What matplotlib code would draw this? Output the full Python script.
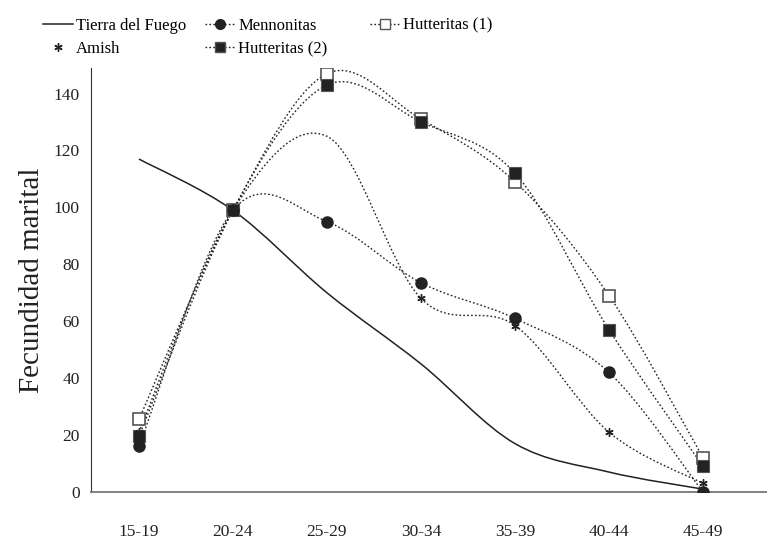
import matplotlib
matplotlib.use("Agg")
import matplotlib.pyplot as plt
import numpy as np
from matplotlib.path import Path
from matplotlib.patches import PathPatch
from matplotlib.lines import Line2D

age_groups = ["15-19", "20-24", "25-29", "30-34", "35-39", "40-44", "45-49"]
tierra_del_fuego = [117, 99, 70, 45, 17, 7, 1]
mennonitas = [16, 99, 95, 73.5, 61, 42, 0]
amish = [21, 99, 125, 68, 58.5, 21, 3]
hutteritas_1 = [25.5, 99, 147, 131, 109, 69, 12]
hutteritas_2 = [19.5, 99, 143, 130, 112, 57, 9]

plt.rcParams["font.family"] = ["Liberation Serif", "DejaVu Serif"]
INK = "#222222"
DOTS = (0, (1.2, 1.6))


def smooth_path(xs, ys):
    # Catmull-Rom style bezier through the points (like a spreadsheet "smoothed line")
    pts = np.column_stack([xs, ys]).astype(float)
    verts = [pts[0]]
    codes = [Path.MOVETO]
    n = len(pts)
    for i in range(n - 1):
        p0 = pts[i - 1] if i > 0 else pts[i]
        p1 = pts[i]
        p2 = pts[i + 1]
        p3 = pts[i + 2] if i + 2 < n else pts[i + 1]
        c1 = p1 + (p2 - p0) / 6.0
        c2 = p2 - (p3 - p1) / 6.0
        verts += [c1, c2, p2]
        codes += [Path.CURVE4] * 3
    return Path(verts, codes)


def draw_curve(ax, ys, ls, lw=1.0, color=INK):
    xs = np.arange(len(ys))
    patch = PathPatch(smooth_path(xs, ys), facecolor="none", edgecolor=color,
                      linestyle=ls, linewidth=lw, zorder=2)
    ax.add_patch(patch)


fig = plt.figure(figsize=(7.67, 5.48), dpi=100)
ax = fig.add_axes([0.1186, 0.1022, 0.8814, 0.7738])

x = np.arange(len(age_groups))

draw_curve(ax, tierra_del_fuego, "-", lw=1.1)
draw_curve(ax, mennonitas, DOTS)
draw_curve(ax, amish, DOTS)
draw_curve(ax, hutteritas_1, DOTS)
draw_curve(ax, hutteritas_2, DOTS)

ax.plot(x, hutteritas_1, ls="none", marker="s", ms=8, mfc="white",
        mec="#555555", mew=1.2, zorder=3)
ax.plot(x, hutteritas_2, ls="none", marker="s", ms=8, mfc=INK,
        mec="#555555", mew=0.8, zorder=4)
ax.plot(x, mennonitas, ls="none", marker="o", ms=8, mfc=INK, mec=INK, zorder=4)
ax.plot(x, amish, ls="none", marker=(6, 2, 0), ms=6, mec=INK, mew=1.0,
        markevery=[0, 1, 3, 4, 5, 6], zorder=5)

ax.set_xlim(-0.51, 6.68)
ax.set_ylim(0, 149)
ax.set_xticks(x)
ax.set_xticklabels(age_groups)
ax.set_yticks(np.arange(0, 141, 20))
ax.tick_params(axis="both", length=0, labelsize=12.5, colors=INK)
ax.tick_params(axis="x", pad=23)
ax.tick_params(axis="y", pad=8)
for side in ("top", "right"):
    ax.spines[side].set_visible(False)
ax.spines["left"].set_color("#333333")
ax.spines["bottom"].set_color("#777777")
ax.spines["bottom"].set_linewidth(1.3)
ax.set_ylabel("Fecundidad marital", fontsize=21, color=INK, labelpad=6)

# legend: three separate columns placed like the reference
h_tierra = Line2D([], [], color=INK, lw=1.1)
h_amish = Line2D([], [], ls="none", marker=(6, 2, 0), ms=6, mec=INK)
h_menn = Line2D([], [], color=INK, ls=DOTS, lw=1.0, marker="o", ms=7, mfc=INK, mec=INK)
h_hut2 = Line2D([], [], color=INK, ls=DOTS, lw=1.0, marker="s", ms=7, mfc=INK, mec="#555555")
h_hut1 = Line2D([], [], color=INK, ls=DOTS, lw=1.0, marker="s", ms=7, mfc="white", mec="#555555")

legend_cols = [
    ([h_tierra, h_amish], ["Tierra del Fuego", "Amish"], 0.056),
    ([h_menn, h_hut2], ["Mennonitas", "Hutteritas (2)"], 0.267),
    ([h_hut1], ["Hutteritas (1)"], 0.482),
]
for hs, labs, x0 in legend_cols:
    fig.legend(hs, labs, loc="upper left", bbox_to_anchor=(x0, 0.968),
               frameon=False, fontsize=12, handlelength=1.8, handletextpad=0.2,
               labelspacing=0.45, borderpad=0, borderaxespad=0)

fig.savefig("out.png", dpi=100)
